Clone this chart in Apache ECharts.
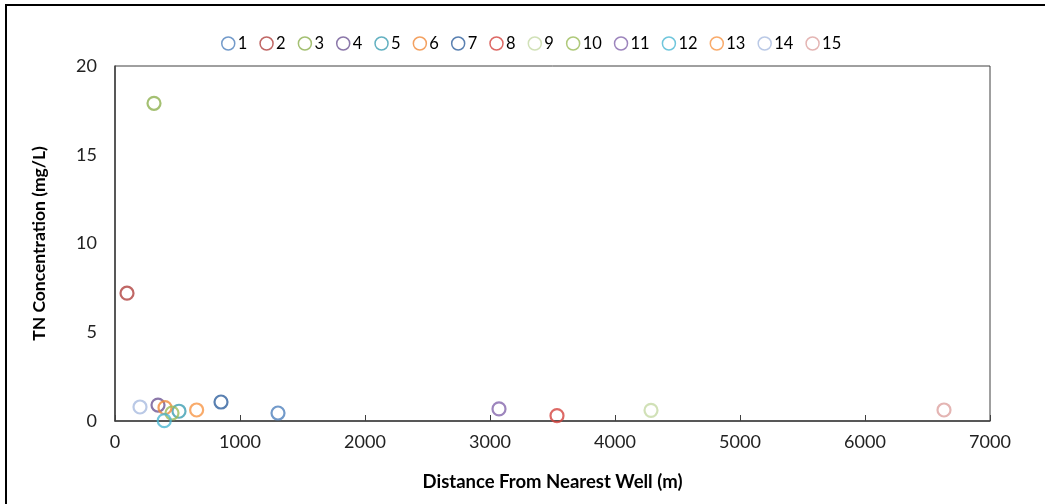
<!DOCTYPE html>
<html>
<head>
<meta charset="utf-8">
<script src="https://cdn.jsdelivr.net/npm/echarts@6/dist/echarts.min.js"></script>
<style>
  html, body { margin: 0; padding: 0; background: #ffffff; }
  #chart { width: 1045px; height: 504px; }
</style>
</head>
<body>
<div id="chart"></div>
<script>
// Sampling sites: distance to the nearest well vs. total nitrogen
const siteNames = ['1', '2', '3', '4', '5', '6', '7', '8', '9', '10', '11', '12', '13', '14', '15'];
const distances = [1304, 96, 312, 344, 512, 400, 848, 3536, 4288, 456, 3072, 394, 653, 200, 6632];
const tnValues = [0.45, 7.2, 17.9, 0.9, 0.55, 0.75, 1.07, 0.3, 0.6, 0.45, 0.68, 0.02, 0.62, 0.79, 0.62];
const siteColors = ['#4F81BD', '#B0413E', '#8DB04F', '#6E5594', '#3C9DB2', '#F08A3A',
                    '#30609E', '#D4433E', '#C6D9A5', '#9BBB59', '#8467AD', '#4BB8D3',
                    '#F79646', '#A9BCE0', '#DDA2A0'];
const xTicks = [0, 1000, 2000, 3000, 4000, 5000, 6000, 7000];
const yTicks = [0, 5, 10, 15, 20];

const font = 'Lato, "Open Sans", sans-serif';

const series = siteNames.map((name, i) => ({
  name: name,
  type: 'scatter',
  symbol: 'circle',
  symbolSize: 13,
  data: [[distances[i], tnValues[i]]],
  itemStyle: { color: 'rgba(255,255,255,0)', borderColor: siteColors[i], borderWidth: 2.2 },
  emphasis: { disabled: true }
}));

const chart = echarts.init(document.getElementById('chart'), null, { renderer: 'canvas' });
chart.setOption({
  animation: false,
  backgroundColor: '#ffffff',
  graphic: [{
    type: 'rect',
    shape: { x: 6, y: 5, width: 1060, height: 520 },
    style: { fill: 'none', stroke: '#000000', lineWidth: 2 },
    silent: true
  }],
  legend: {
    top: 30,
    left: 216,
    itemWidth: 13,
    itemHeight: 13,
    itemGap: 12,
    icon: 'circle',
    textStyle: { fontFamily: font, fontSize: 16.5, color: '#000000', padding: [0, 0, 0, -2] },
    data: siteNames.map((n, i) => ({
      name: n,
      itemStyle: { color: 'rgba(255,255,255,0)', borderColor: siteColors[i], borderWidth: 1.5 }
    }))
  },
  grid: {
    left: 115, right: 55, top: 66, bottom: 83,
    show: true, borderColor: '#404040', borderWidth: 1
  },
  xAxis: {
    type: 'value',
    min: xTicks[0],
    max: xTicks[xTicks.length - 1],
    interval: 1000,
    name: 'Distance From Nearest Well (m)',
    nameLocation: 'middle',
    nameGap: 52,
    nameTextStyle: { fontFamily: font, fontSize: 18.5, fontWeight: 'bold', color: '#000000' },
    axisLine: { show: true, lineStyle: { color: '#404040', width: 1.5 } },
    axisTick: { show: true, inside: true, length: 6, lineStyle: { color: '#404040' } },
    axisLabel: { fontFamily: font, fontSize: 18, color: '#222222', margin: 12, formatter: v => String(v) },
    splitLine: { show: false }
  },
  yAxis: {
    type: 'value',
    min: yTicks[0],
    max: yTicks[yTicks.length - 1],
    interval: 5,
    name: 'TN Concentration (mg/L)',
    nameLocation: 'middle',
    nameGap: 67,
    nameRotate: 90,
    nameTextStyle: { fontFamily: font, fontSize: 17.5, fontWeight: 'bold', color: '#000000' },
    axisLine: { show: true, lineStyle: { color: '#404040', width: 1.5 } },
    axisTick: { show: false },
    axisLabel: { fontFamily: font, fontSize: 18, color: '#222222', margin: 18 },
    splitLine: { show: false }
  },
  series: series
});
</script>
</body>
</html>
